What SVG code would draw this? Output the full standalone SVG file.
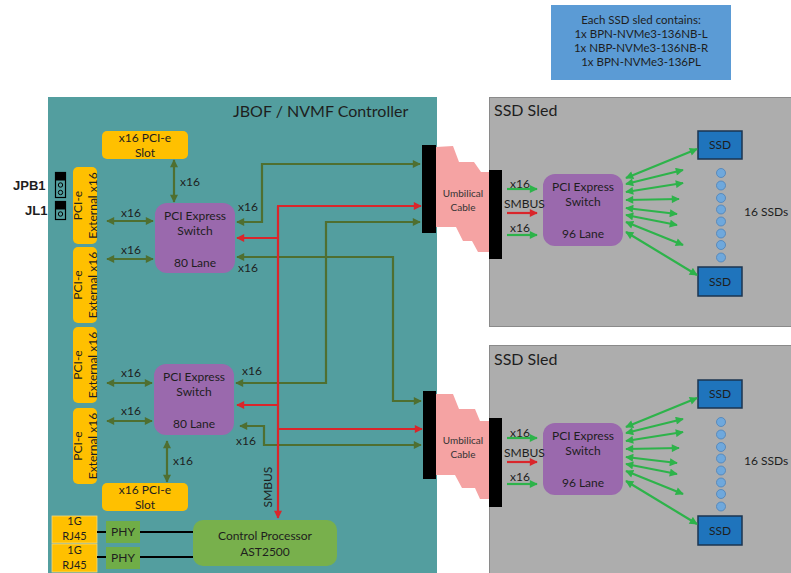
<svg xmlns="http://www.w3.org/2000/svg" width="791" height="573" viewBox="0 0 791 573">
  <style>
    text { font-family: Lato, "Open Sans", sans-serif; fill: #1e1e1e; }
    .lbl { font-size: 12px; }
    .rj { font-size: 11px; }
    .note { font-size: 11.5px; }
    .mid { text-anchor: middle; }
    .title { font-size: 16px; }
    .small { font-size: 10px; fill: #333; }
    .bold { font-family: "Liberation Sans", Arial, sans-serif; font-weight: bold; font-size: 13px; }
    .teal { fill: #539e9f; }
    .yellow { fill: #ffc000; }
    .purple { fill: #9a69ad; }
    .sled { fill: #adadad; stroke: #8a8a8a; stroke-width: 1; }
    .ssd { fill: #1f74bc; stroke: #1b3550; stroke-width: 1.5; }
    .dot { fill: #6fa8dc; stroke: #4d82b8; stroke-width: 0.8; }
    .cable { fill: #f5a3a3; }
    .dg { fill: none; stroke: #4f6f30; stroke-width: 2.2; }
    .rd { fill: none; stroke: #d9262b; stroke-width: 2.2; }
    .bg { fill: none; stroke: #2db34a; stroke-width: 2.2; }
    .blk { fill: none; stroke: #000; stroke-width: 2.2; }
  </style>
  <defs>
    <marker id="ahG" viewBox="0 0 10 10" refX="9" refY="5" markerWidth="9" markerHeight="8" markerUnits="userSpaceOnUse" orient="auto-start-reverse">
      <path d="M0,0 L10,5 L0,10 z" fill="#4f6f30"/>
    </marker>
    <marker id="ahR" viewBox="0 0 10 10" refX="9" refY="5" markerWidth="9" markerHeight="8" markerUnits="userSpaceOnUse" orient="auto-start-reverse">
      <path d="M0,0 L10,5 L0,10 z" fill="#d9262b"/>
    </marker>
    <marker id="ahB" viewBox="0 0 10 10" refX="9" refY="5" markerWidth="9" markerHeight="8" markerUnits="userSpaceOnUse" orient="auto-start-reverse">
      <path d="M0,0 L10,5 L0,10 z" fill="#2db34a"/>
    </marker>
  </defs>

  <!-- note box -->
  <g id="note">
    <rect x="551" y="5" width="180" height="75" fill="#5b9bd5"/>
    <text class="note mid" x="641" y="24">Each SSD sled contains:</text>
    <text class="note mid" x="641" y="38">1x BPN-NVMe3-136NB-L</text>
    <text class="note mid" x="641" y="52">1x NBP-NVMe3-136NB-R</text>
    <text class="note mid" x="641" y="66">1x BPN-NVMe3-136PL</text>
  </g>

  <!-- controller enclosure -->
  <g id="controller">
    <rect class="teal" x="48" y="97" width="389" height="480"/>
    <text class="title" x="233" y="117">JBOF / NVMF Controller</text>
  </g>

  <!-- jumpers -->
  <g id="jumpers">
    <text class="bold" x="13" y="190">JPB1</text>
    <text class="bold" x="25" y="215">JL1</text>
    <rect x="55.5" y="172.5" width="10" height="25" fill="none" stroke="#000" stroke-width="1.2"/>
    <rect x="55.5" y="172.5" width="10" height="8" fill="#000"/>
    <circle cx="60.5" cy="185" r="2.2" fill="none" stroke="#000" stroke-width="1"/>
    <circle cx="60.5" cy="192.5" r="2.2" fill="none" stroke="#000" stroke-width="1"/>
    <rect x="55.5" y="201.5" width="10" height="18" fill="none" stroke="#000" stroke-width="1.2"/>
    <rect x="55.5" y="201.5" width="10" height="8" fill="#000"/>
    <circle cx="60.5" cy="214" r="2.2" fill="none" stroke="#000" stroke-width="1"/>
  </g>

  <!-- PCI-e slots -->
  <g id="slot-top">
    <rect class="yellow" x="102" y="131" width="86" height="28" rx="5"/>
    <text class="lbl mid" x="145" y="142">x16 PCI-e</text>
    <text class="lbl mid" x="145" y="157">Slot</text>
  </g>
  <g id="slot-bottom">
    <rect class="yellow" x="102" y="483" width="86" height="28" rx="5"/>
    <text class="lbl mid" x="145" y="494">x16 PCI-e</text>
    <text class="lbl mid" x="145" y="509">Slot</text>
  </g>

  <!-- external PCI-e ports -->
  <g id="ext1">
    <rect class="yellow" x="73" y="167" width="24" height="77" rx="5"/>
    <g transform="translate(85,205.5) rotate(-90)">
      <text class="lbl mid" x="0" y="-3">PCI-e</text>
      <text class="lbl mid" x="0" y="12">External x16</text>
    </g>
  </g>
  <g id="ext2">
    <rect class="yellow" x="73" y="247" width="24" height="76" rx="5"/>
    <g transform="translate(85,285) rotate(-90)">
      <text class="lbl mid" x="0" y="-3">PCI-e</text>
      <text class="lbl mid" x="0" y="12">External x16</text>
    </g>
  </g>
  <g id="ext3">
    <rect class="yellow" x="73" y="327" width="24" height="76" rx="5"/>
    <g transform="translate(85,365) rotate(-90)">
      <text class="lbl mid" x="0" y="-3">PCI-e</text>
      <text class="lbl mid" x="0" y="12">External x16</text>
    </g>
  </g>
  <g id="ext4">
    <rect class="yellow" x="73" y="408" width="24" height="76" rx="5"/>
    <g transform="translate(85,446) rotate(-90)">
      <text class="lbl mid" x="0" y="-3">PCI-e</text>
      <text class="lbl mid" x="0" y="12">External x16</text>
    </g>
  </g>

  <!-- controller switches -->
  <g id="switch-top">
    <rect class="purple" x="155" y="203" width="80" height="70" rx="12"/>
    <text class="lbl mid" x="195" y="220">PCI Express</text>
    <text class="lbl mid" x="195" y="235">Switch</text>
    <text class="lbl mid" x="195" y="267">80 Lane</text>
  </g>
  <g id="switch-bottom">
    <rect class="purple" x="154" y="364" width="80" height="71" rx="12"/>
    <text class="lbl mid" x="194" y="381">PCI Express</text>
    <text class="lbl mid" x="194" y="396">Switch</text>
    <text class="lbl mid" x="194" y="428">80 Lane</text>
  </g>

  <!-- management -->
  <g id="cpu">
    <rect x="193" y="520" width="144" height="46" rx="10" fill="#78b04c"/>
    <text class="lbl mid" x="265" y="540">Control Processor</text>
    <text class="lbl mid" x="265" y="556">AST2500</text>
  </g>
  <g id="phy1">
    <rect x="106" y="521" width="34" height="22" fill="#70ad47"/>
    <text class="lbl mid" x="123" y="536">PHY</text>
  </g>
  <g id="phy2">
    <rect x="106" y="547" width="34" height="22" fill="#70ad47"/>
    <text class="lbl mid" x="123" y="562">PHY</text>
  </g>
  <g id="rj45-1">
    <rect class="yellow" x="52" y="516" width="45" height="27" stroke="#f3d77a" stroke-width="0.8"/>
    <text class="rj mid" x="74.5" y="525">1G</text>
    <text class="rj mid" x="74.5" y="540">RJ45</text>
  </g>
  <g id="rj45-2">
    <rect class="yellow" x="52" y="544" width="45" height="28" stroke="#f3d77a" stroke-width="0.8"/>
    <text class="rj mid" x="74.5" y="554">1G</text>
    <text class="rj mid" x="74.5" y="569">RJ45</text>
  </g>

  <!-- cable assemblies -->
  <g id="cable-top">
    <path class="cable" d="M436,147 L453,146 L459,162 L474,162 L481,172 L490,172 L490,252 L478,252 L472,241 L463,241 L456,227 L436,227 z"/>
    <rect x="422" y="145" width="14" height="88" fill="#000"/>
    <text class="small mid" x="463" y="197">Umbilical</text>
    <text class="small mid" x="463" y="211">Cable</text>
  </g>
  <g id="cable-bottom">
    <path class="cable" d="M436,394 L453,394 L459,409 L475,409 L480,421 L490,421 L490,499 L480,499 L475,488 L462,488 L455,475 L436,475 z"/>
    <rect x="423" y="391" width="13" height="88" fill="#000"/>
    <text class="small mid" x="463" y="444">Umbilical</text>
    <text class="small mid" x="463" y="458">Cable</text>
  </g>

  <!-- SSD sleds -->
  <g id="sled-top">
    <rect class="sled" x="489.5" y="97.5" width="305" height="229"/>
    <text class="title" x="494" y="116">SSD Sled</text>
    <rect x="489" y="170" width="13" height="89" fill="#000"/>
    <rect class="purple" x="543" y="174" width="80" height="72" rx="12"/>
    <text class="lbl mid" x="583" y="191">PCI Express</text>
    <text class="lbl mid" x="583" y="206">Switch</text>
    <text class="lbl mid" x="583" y="238">96 Lane</text>
    <text class="lbl" x="510" y="188">x16</text>
    <text class="lbl" x="504" y="208">SMBUS</text>
    <text class="lbl" x="510" y="232">x16</text>
    <g id="ssd-top-a">
      <rect class="ssd" x="698" y="131" width="44" height="28"/>
      <text class="lbl mid" x="720" y="149">SSD</text>
    </g>
    <g id="ssd-top-b">
      <rect class="ssd" x="698" y="267" width="44" height="29"/>
      <text class="lbl mid" x="720" y="286">SSD</text>
    </g>
    <circle class="dot" cx="721" cy="173" r="4.5"/>
    <circle class="dot" cx="721" cy="185.5" r="4.5"/>
    <circle class="dot" cx="721" cy="198" r="4.5"/>
    <circle class="dot" cx="721" cy="209.5" r="4.5"/>
    <circle class="dot" cx="721" cy="221.5" r="4.5"/>
    <circle class="dot" cx="721" cy="233.5" r="4.5"/>
    <circle class="dot" cx="721" cy="245" r="4.5"/>
    <circle class="dot" cx="721" cy="257.5" r="4.5"/>
    <text class="lbl" x="744" y="216">16 SSDs</text>
  </g>
  <g id="sled-bottom">
    <rect class="sled" x="489.5" y="345.5" width="305" height="240"/>
    <text class="title" x="494" y="365">SSD Sled</text>
    <rect x="489" y="418" width="13" height="89" fill="#000"/>
    <rect class="purple" x="543" y="423" width="80" height="72" rx="12"/>
    <text class="lbl mid" x="583" y="440">PCI Express</text>
    <text class="lbl mid" x="583" y="455">Switch</text>
    <text class="lbl mid" x="583" y="487">96 Lane</text>
    <text class="lbl" x="510" y="437">x16</text>
    <text class="lbl" x="504" y="457">SMBUS</text>
    <text class="lbl" x="510" y="481">x16</text>
    <g id="ssd-bottom-a">
      <rect class="ssd" x="698" y="380" width="44" height="28"/>
      <text class="lbl mid" x="720" y="398">SSD</text>
    </g>
    <g id="ssd-bottom-b">
      <rect class="ssd" x="698" y="516" width="44" height="29"/>
      <text class="lbl mid" x="720" y="535">SSD</text>
    </g>
    <circle class="dot" cx="721" cy="422" r="4.5"/>
    <circle class="dot" cx="721" cy="434.5" r="4.5"/>
    <circle class="dot" cx="721" cy="447" r="4.5"/>
    <circle class="dot" cx="721" cy="458.5" r="4.5"/>
    <circle class="dot" cx="721" cy="470.5" r="4.5"/>
    <circle class="dot" cx="721" cy="482.5" r="4.5"/>
    <circle class="dot" cx="721" cy="494" r="4.5"/>
    <circle class="dot" cx="721" cy="506.5" r="4.5"/>
    <text class="lbl" x="744" y="465">16 SSDs</text>
  </g>

  <!-- connectors -->
  <g id="connectors">
    <!-- slot / external port links -->
    <path class="dg" d="M174,160 V202" marker-start="url(#ahG)" marker-end="url(#ahG)"/>
    <path class="dg" d="M107,221 H153" marker-start="url(#ahG)" marker-end="url(#ahG)"/>
    <path class="dg" d="M107,259 H153" marker-start="url(#ahG)" marker-end="url(#ahG)"/>
    <path class="dg" d="M107,383 H152" marker-start="url(#ahG)" marker-end="url(#ahG)"/>
    <path class="dg" d="M107,421 H152" marker-start="url(#ahG)" marker-end="url(#ahG)"/>
    <path class="dg" d="M167,441 V482" marker-start="url(#ahG)" marker-end="url(#ahG)"/>
    <!-- switch uplinks to cables -->
    <path class="dg" d="M237,222 H262 V164 H420" marker-start="url(#ahG)" marker-end="url(#ahG)"/>
    <path class="dg" d="M237,257 H393 V401 H421" marker-start="url(#ahG)" marker-end="url(#ahG)"/>
    <path class="dg" d="M236,383 H326 V222 H420" marker-start="url(#ahG)" marker-end="url(#ahG)"/>
    <path class="dg" d="M240,426 H264 V445 H421" marker-start="url(#ahG)" marker-end="url(#ahG)"/>
    <!-- SMBUS -->
    <path class="rd" d="M278,206 V518" marker-end="url(#ahR)"/>
    <path class="rd" d="M277,206 H421" marker-end="url(#ahR)"/>
    <path class="rd" d="M278,238 H237" marker-end="url(#ahR)"/>
    <path class="rd" d="M278,405 H237" marker-end="url(#ahR)"/>
    <path class="rd" d="M278,429 H422" marker-end="url(#ahR)"/>
    <!-- network -->
    <path class="blk" d="M97,532 H106 M140,532 H193"/>
    <path class="blk" d="M97,557 H106 M140,557 H193"/>
    <!-- sled inputs -->
    <path class="bg" d="M507,189 H537" marker-end="url(#ahB)"/>
    <path class="rd" d="M507,213 H537" marker-end="url(#ahR)"/>
    <path class="bg" d="M507,235 H537" marker-end="url(#ahB)"/>
    <path class="bg" d="M507,438 H537" marker-end="url(#ahB)"/>
    <path class="rd" d="M507,462 H537" marker-end="url(#ahR)"/>
    <path class="bg" d="M507,484 H537" marker-end="url(#ahB)"/>
    <!-- sled fan-out -->
    <g marker-start="url(#ahB)" marker-end="url(#ahB)">
      <path class="bg" d="M626,178 L697,149"/>
      <path class="bg" d="M626,184 L683,170"/>
      <path class="bg" d="M626,192 L683,183"/>
      <path class="bg" d="M626,200 L679,199"/>
      <path class="bg" d="M626,208 L677,214"/>
      <path class="bg" d="M626,215 L677,225"/>
      <path class="bg" d="M626,222 L683,245"/>
      <path class="bg" d="M626,232 L697,275"/>
      <path class="bg" d="M626,427 L697,398"/>
      <path class="bg" d="M626,433 L683,419"/>
      <path class="bg" d="M626,441 L683,432"/>
      <path class="bg" d="M626,449 L679,448"/>
      <path class="bg" d="M626,457 L677,463"/>
      <path class="bg" d="M626,464 L677,474"/>
      <path class="bg" d="M626,471 L683,494"/>
      <path class="bg" d="M626,481 L697,524"/>
    </g>
  </g>

  <!-- link labels -->
  <g id="labels">
    <text class="lbl" x="180" y="186">x16</text>
    <text class="lbl" x="121" y="217">x16</text>
    <text class="lbl" x="121" y="254">x16</text>
    <text class="lbl" x="121" y="377">x16</text>
    <text class="lbl" x="121" y="415">x16</text>
    <text class="lbl" x="173" y="465">x16</text>
    <text class="lbl" x="238" y="211">x16</text>
    <text class="lbl" x="238" y="272">x16</text>
    <text class="lbl" x="242" y="375">x16</text>
    <text class="lbl" x="236" y="445">x16</text>
    <text class="lbl mid" transform="translate(272,487) rotate(-90)">SMBUS</text>
  </g>
</svg>
